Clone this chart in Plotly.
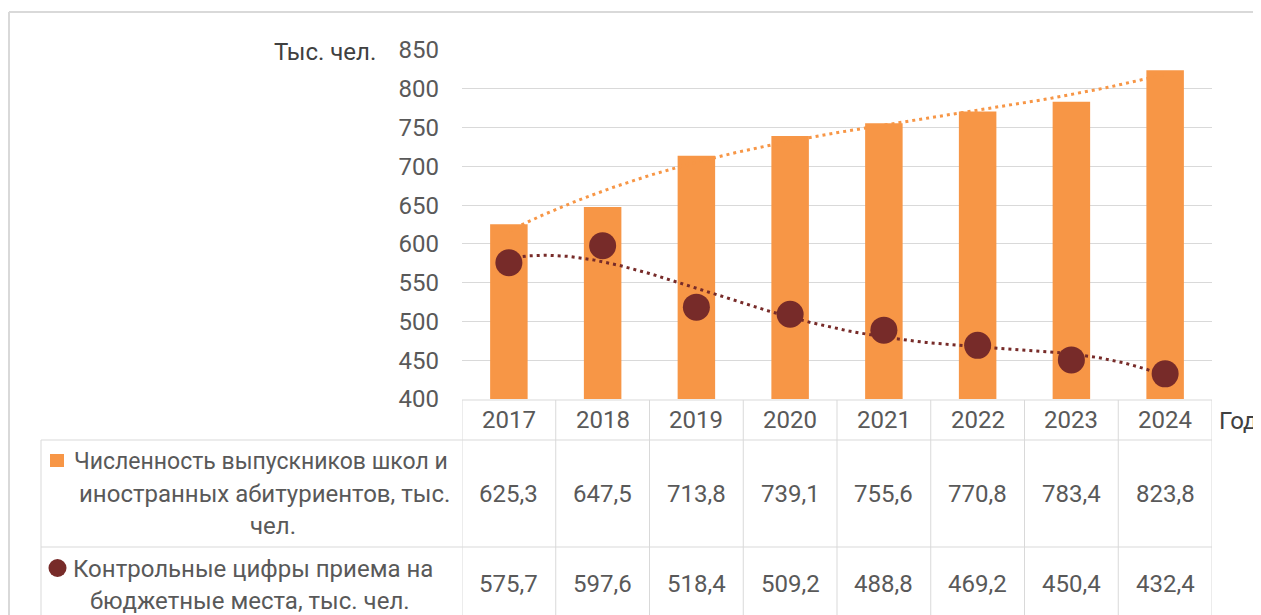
import numpy as np
import plotly.graph_objects as go

# ---- data ----
years = [2017, 2018, 2019, 2020, 2021, 2022, 2023, 2024]
graduates = [625.3, 647.5, 713.8, 739.1, 755.6, 770.8, 783.4, 823.8]
budget_places = [575.7, 597.6, 518.4, 509.2, 488.8, 469.2, 450.4, 432.4]
y_ticks = [400, 450, 500, 550, 600, 650, 700, 750, 800, 850]
row1_lines = ["Численность выпускников школ и", "иностранных абитуриентов, тыс.", "чел."]
row2_lines = ["Контрольные цифры приема на", "бюджетные места, тыс. чел."]
y_title = "Тыс. чел."
x_title = "Год"

OFF = 8  # page body margin
W, H = 1261 + OFF, 615
ORANGE = "#F79646"
MAROON = "#772B29"
GRID = "#D9D9D9"
TXT = "#595959"
FONT = "Roboto"
FS = 24


def px(x):
    return (x - OFF) / W


def py(y):
    return 1 - (y - OFF) / H


x_arr = np.array(years, dtype=float)
t = x_arr - years[0] + 1
t_fine = np.linspace(t[0], t[-1], 300)
x_fine = t_fine + years[0] - 1
trend_g = np.polyval(np.polyfit(t, graduates, 3), t_fine)
trend_b = np.polyval(np.polyfit(t, budget_places, 4), t_fine)

fig = go.Figure()
fig.add_trace(go.Bar(x=years, y=graduates, marker=dict(color=ORANGE, line=dict(width=0)),
                     width=0.4, base=0, showlegend=False))
fig.add_trace(go.Scatter(x=x_fine, y=trend_g, mode="lines",
                         line=dict(color=ORANGE, width=3, dash="3px,4px"), showlegend=False))
fig.add_trace(go.Scatter(x=x_fine, y=trend_b, mode="lines",
                         line=dict(color=MAROON, width=3, dash="3px,4px"), showlegend=False))
fig.add_trace(go.Scatter(x=years, y=budget_places, mode="markers",
                         marker=dict(color=MAROON, size=27), showlegend=False))

x0, x1 = 462, 1212
y0, y1 = 50, 399
fig.update_layout(
    width=W, height=H,
    margin=dict(l=0, r=0, t=0, b=0, pad=0, autoexpand=False),
    showlegend=False,
    paper_bgcolor="white", plot_bgcolor="white",
    font=dict(family=FONT, size=FS, color=TXT),
    xaxis=dict(domain=[px(x0), px(x1)], range=[years[0] - 0.5, years[-1] + 0.5],
               showticklabels=False, showgrid=False, zeroline=False, showline=False,
               automargin=False),
    yaxis=dict(domain=[py(y1), py(y0)], range=[y_ticks[0], y_ticks[-1]], tickvals=y_ticks,
               showgrid=True, gridcolor=GRID, gridwidth=1, zeroline=False, showline=False,
               automargin=False,
               ticklabelstandoff=22, tickfont=dict(size=FS, color=TXT)),
    bargap=0.6,
)

shapes = []
line = dict(color=GRID, width=1)
# outer frame
shapes.append(dict(type="line", xref="paper", yref="paper", x0=px(9), x1=1.0, y0=py(12), y1=py(12),
                   line=dict(color=GRID, width=2)))
shapes.append(dict(type="line", xref="paper", yref="paper", x0=px(9), x1=px(9), y0=py(12), y1=0,
                   line=dict(color=GRID, width=2)))
# table
shapes.append(dict(type="line", xref="paper", yref="paper", x0=px(x0), x1=px(x1), y0=py(400), y1=py(400), line=line))
for yy in (440, 547):
    shapes.append(dict(type="line", xref="paper", yref="paper", x0=px(41), x1=px(x1), y0=py(yy), y1=py(yy), line=line))
shapes.append(dict(type="line", xref="paper", yref="paper", x0=px(41), x1=px(41), y0=py(440), y1=0, line=line))
for i in range(len(years) + 1):
    xb = years[0] - 0.5 + i
    shapes.append(dict(type="line", xref="x", yref="paper", x0=xb, x1=xb, y0=py(400), y1=0, line=line))
# legend keys in the data table
shapes.append(dict(type="rect", xref="paper", yref="paper", x0=px(50), x1=px(64), y0=py(467), y1=py(454),
                   fillcolor=ORANGE, line=dict(width=0)))
shapes.append(dict(type="circle", xref="paper", yref="paper", x0=px(48.5), x1=px(66.5), y0=py(577), y1=py(559),
                   fillcolor=MAROON, line=dict(width=0)))
fig.update_layout(shapes=shapes)

ann = []
ann.append(dict(text=y_title, xref="paper", yref="paper", x=px(378), y=py(52), xanchor="right",
                yanchor="middle", showarrow=False, font=dict(size=FS, color="#404040")))
ann.append(dict(text=x_title, xref="paper", yref="paper", x=px(1217), y=py(421), xanchor="left",
                yanchor="middle", showarrow=False, font=dict(size=FS, color="#404040")))
for yr, g, b in zip(years, graduates, budget_places):
    ann.append(dict(text=str(yr), xref="x", yref="paper", x=yr, y=py(420), showarrow=False,
                    xanchor="center", yanchor="middle"))
    ann.append(dict(text=f"{g:.1f}".replace(".", ","), xref="x", yref="paper", x=yr, y=py(494),
                    showarrow=False, xanchor="center", yanchor="middle"))
    ann.append(dict(text=f"{b:.1f}".replace(".", ","), xref="x", yref="paper", x=yr, y=py(584),
                    showarrow=False, xanchor="center", yanchor="middle"))

row1_y = [462, 494, 526]
row1_x = [72, 264, 273]
for i, (txt, yy, xx) in enumerate(zip(row1_lines, row1_y, row1_x)):
    ann.append(dict(text=txt, xref="paper", yref="paper", x=px(xx), y=py(yy), showarrow=False,
                    xanchor="left" if i == 0 else "center", yanchor="middle",
                    font=dict(size=23 if i == 0 else FS)))
row2_y = [569, 601]
row2_x = [71, 250]
for i, (txt, yy, xx) in enumerate(zip(row2_lines, row2_y, row2_x)):
    ann.append(dict(text=txt, xref="paper", yref="paper", x=px(xx), y=py(yy), showarrow=False,
                    xanchor="left" if i == 0 else "center", yanchor="middle"))
fig.update_layout(annotations=ann)

fig.write_html("out.html")
